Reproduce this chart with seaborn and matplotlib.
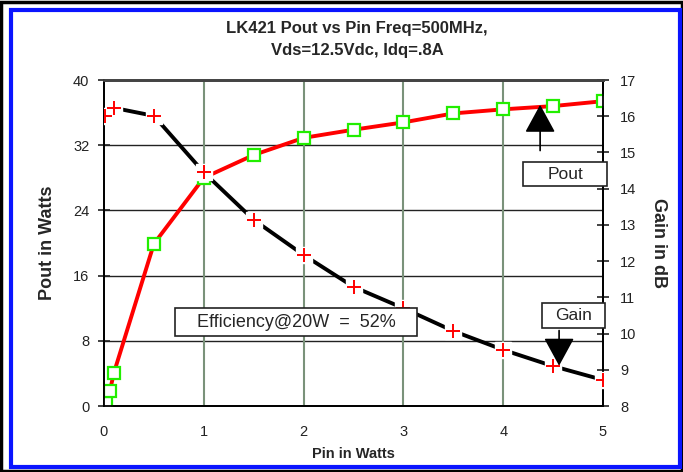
import matplotlib
matplotlib.use("Agg")
import matplotlib.pyplot as plt
import seaborn as sns
import pandas as pd
from matplotlib.patches import Rectangle

# values
pin_pout = [0.02, 0.06, 0.1, 0.5, 1.0, 1.5, 2.0, 2.5, 3.0, 3.5, 4.0, 4.5, 5.0]
pout_watts = [0.4, 1.9, 4.1, 19.9, 28.0, 30.8, 32.9, 33.9, 34.8, 35.9, 36.4, 36.8, 37.4]

pin_gain = [0.01, 0.1, 0.5, 1.0, 1.5, 2.0, 2.5, 3.0, 3.5, 4.0, 4.5, 5.0]
gain_db = [16.0, 16.23, 16.01, 14.45, 13.14, 12.17, 11.29, 10.7, 10.07, 9.55, 9.1, 8.72]

pout_ticks = [0, 8, 16, 24, 32, 40]
gain_ticks = [8, 9, 10, 11, 12, 13, 14, 15, 16, 17]
pin_ticks = [0, 1, 2, 3, 4, 5]

pout_df = pd.DataFrame({"Pin": pin_pout, "Pout": pout_watts})
gain_df = pd.DataFrame({"Pin": pin_gain, "Gain": gain_db})

sns.set_style("white")
plt.rcParams['font.family'] = ['Liberation Sans', 'DejaVu Sans']

fig = plt.figure(figsize=(6.83, 4.72), dpi=100)
ax = fig.add_axes([104 / 683, 1 - 406 / 472, 499 / 683, 326 / 472])
ax2 = ax.twinx()

# frame around the whole chart
fig.patches.append(Rectangle((0.002, 0.002), 0.996, 0.994, transform=fig.transFigure,
                             fill=False, edgecolor='black', lw=2.5))
fig.patches.append(Rectangle((0.016, 0.01), 0.98, 0.968, transform=fig.transFigure,
                             fill=False, edgecolor='#0a14ff', lw=3))

# grid
for y in pout_ticks[1:-1]:
    ax.axhline(y, color='#222222', lw=1, zorder=0)
for x in pin_ticks[1:-1]:
    ax.axvline(x, color='#7a927a', lw=1.5, zorder=0)

# Pout: red line with hollow green squares
sns.lineplot(data=pout_df, x="Pin", y="Pout", ax=ax, color='red', lw=2.8,
             marker='s', markersize=8, markerfacecolor='white',
             markeredgecolor='#22ee00', markeredgewidth=1.6, zorder=3)

# Gain: black line broken at the red crosses
sns.lineplot(data=gain_df, x="Pin", y="Gain", ax=ax2, color='black', lw=2.8, zorder=2)
ax2.plot(pin_gain, gain_db, ls='none', marker='s', markersize=11,
         markerfacecolor='white', markeredgecolor='white', zorder=3)
ax2.plot(pin_gain, gain_db, ls='none', marker='+', markersize=10,
         markeredgecolor='red', markeredgewidth=1.4, zorder=4)

ax.set_xlim(0, 5)
ax.set_ylim(0, 40)
ax2.set_ylim(8, 17)
ax.set_xticks(pin_ticks)
ax.set_yticks(pout_ticks)
ax2.set_yticks(gain_ticks)

for a in (ax, ax2):
    for s in a.spines.values():
        s.set_color('black')
        s.set_linewidth(1.3)
    a.spines['top'].set_color('#444444')
    a.spines['top'].set_linewidth(2)
ax.tick_params(axis='y', direction='inout', length=9, width=1.2, colors='#222222',
               labelsize=10.5, pad=6)
ax.tick_params(axis='x', direction='inout', length=9, width=1.2, colors='#222222',
               labelsize=10.5, pad=9)
ax2.tick_params(axis='y', direction='inout', length=9, width=1.2, colors='#222222',
                labelsize=10.5, pad=8)

ax.set_xlabel("Pin in Watts", fontsize=10.5, fontweight='bold', labelpad=6)
ax.set_ylabel("Pout in Watts", fontsize=13, fontweight='bold', labelpad=12,
              family=['Liberation Sans Narrow', 'Liberation Sans'])
ax2.set_ylabel("Gain in dB", fontsize=13, fontweight='bold', rotation=270, labelpad=22,
               family=['Liberation Sans Narrow', 'Liberation Sans'])

fig.text(0.523, 0.955, "LK421 Pout vs Pin Freq=500MHz,\nVds=12.5Vdc, Idq=.8A",
         ha='center', va='top', fontsize=12, fontweight='bold', linespacing=1.55)

# text boxes with arrows, drawn on the top axes in Pout coordinates
def label_box(x0, x1, y0, y1, text, size):
    ax2.add_patch(Rectangle((x0, y0), x1 - x0, y1 - y0, transform=ax.transData,
                            facecolor='white', edgecolor='#222222', lw=1.2,
                            zorder=6, clip_on=False))
    ax2.text((x0 + x1) / 2, (y0 + y1) / 2, text, transform=ax.transData,
             fontsize=size, ha='center', va='center', zorder=7)

label_box(0.71, 3.14, 8.6, 12.0, "Efficiency@20W  =  52%", 13)
label_box(4.20, 5.04, 27.0, 29.9, "Pout", 12.5)
label_box(4.39, 5.02, 9.6, 12.6, "Gain", 12.5)

ax2.annotate("", xy=(4.37, 37.3), xytext=(4.37, 31.0), xycoords=ax.transData,
             textcoords=ax.transData,
             arrowprops=dict(arrowstyle='-|>,head_length=1.1,head_width=0.6',
                             color='black', lw=1.2, mutation_scale=16), zorder=6)
ax2.annotate("", xy=(4.56, 4.6), xytext=(4.56, 9.6), xycoords=ax.transData,
             textcoords=ax.transData,
             arrowprops=dict(arrowstyle='-|>,head_length=1.1,head_width=0.6',
                             color='black', lw=1.2, mutation_scale=16), zorder=6)

fig.savefig("out.png", dpi=100)
